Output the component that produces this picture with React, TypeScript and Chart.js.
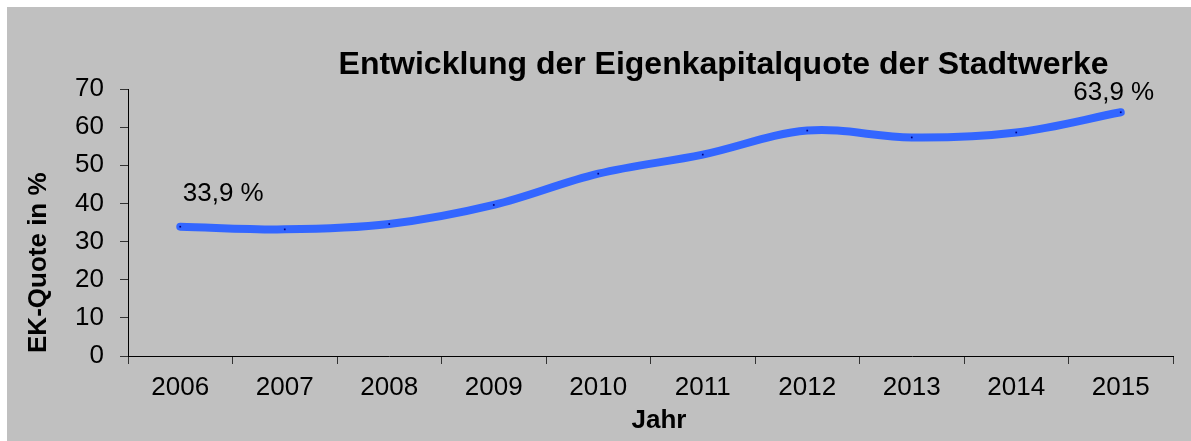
import React, { useEffect, useRef } from "react";
import { Chart, registerables } from "chart.js";

Chart.register(...registerables);

const TITLE = "Entwicklung der Eigenkapitalquote der Stadtwerke";
const Y_TITLE = "EK-Quote in %";
const X_TITLE = "Jahr";
const years = ["2006", "2007", "2008", "2009", "2010", "2011", "2012", "2013", "2014", "2015"];
const ekQuote = [33.9, 33.2, 34.6, 39.6, 47.8, 52.8, 59.1, 57.3, 58.6, 63.9];
const labeledIdx = [0, 9];
const yMin = 0;
const yMax = 70;
const yStep = 10;

const FONT = '"Liberation Sans", Arial, Helvetica, sans-serif';

const textPlugin = {
  id: "customTexts",
  afterDraw(chart: any) {
    const ctx = chart.ctx;
    ctx.save();
    ctx.fillStyle = "#000";
    // title
    ctx.font = `bold 32px ${FONT}`;
    ctx.textAlign = "center";
    ctx.textBaseline = "alphabetic";
    ctx.fillText(TITLE, 716.5, 67);
    // x title
    ctx.font = `bold 26px ${FONT}`;
    ctx.fillText(X_TITLE, 652, 421);
    // y title
    ctx.save();
    ctx.translate(32, 255.7);
    ctx.rotate(-Math.PI / 2);
    ctx.textBaseline = "middle";
    ctx.fillText(Y_TITLE, 0, 0);
    ctx.restore();
    // data labels
    const meta = chart.getDatasetMeta(0);
    ctx.font = `26px ${FONT}`;
    ctx.textAlign = "center";
    ctx.textBaseline = "alphabetic";
    labeledIdx.forEach((i, k) => {
      const pt = meta.data[i];
      const txt = ekQuote[i].toFixed(1).replace(".", ",") + " %";
      const dx = k === 0 ? 43 : -7;
      const dy = k === 0 ? -26 : -12.5;
      ctx.fillText(txt, pt.x + dx, pt.y + dy);
    });
    ctx.restore();
  },
};

export default function App() {
  const ref = useRef<HTMLCanvasElement>(null);
  useEffect(() => {
    document.body.style.overflow = "hidden";
    const chart = new Chart(ref.current as HTMLCanvasElement, {
      type: "line",
      data: {
        labels: years,
        datasets: [
          {
            data: ekQuote,
            borderColor: "#3366FF",
            borderWidth: 8,
            borderCapStyle: "round",
            borderJoinStyle: "round",
            tension: 0.35,
            pointStyle: "rect",
            pointRadius: 1.2,
            pointBackgroundColor: "#000080",
            pointBorderColor: "#000080",
            pointBorderWidth: 0,
            fill: false,
            clip: false as any,
          },
        ],
      },
      options: {
        animation: false,
        responsive: false,
        layout: { padding: { top: 82, right: 18, left: 0, bottom: 0 } },
        plugins: {
          legend: { display: false },
          tooltip: { enabled: false },
          title: { display: false },
        },
        scales: {
          x: {
            offset: true,
            grid: {
              offset: true,
              drawOnChartArea: false,
              drawTicks: true,
              tickLength: 8,
              tickColor: "#333",
            },
            border: { color: "#000", width: 1 },
            ticks: { color: "#000", font: { size: 26, family: FONT }, padding: 8, maxRotation: 0 },
            afterFit: (s: any) => {
              s.height = 85;
            },
          },
          y: {
            min: yMin,
            max: yMax,
            grid: {
              drawOnChartArea: false,
              drawTicks: true,
              tickLength: 8,
              tickColor: "#333",
            },
            border: { color: "#000", width: 1 },
            ticks: { stepSize: yStep, color: "#000", font: { size: 26, family: FONT }, padding: 16 },
            afterFit: (s: any) => {
              s.width = 121;
            },
          },
        },
      },
      plugins: [textPlugin],
    });
    return () => chart.destroy();
  }, []);
  return (
    <div
      style={{
        position: "fixed",
        left: 7,
        top: 7,
        width: 1184,
        height: 434,
        background: "#C0C0C0",
      }}
    >
      <canvas ref={ref} width={1184} height={434} style={{ display: "block" }} />
    </div>
  );
}
